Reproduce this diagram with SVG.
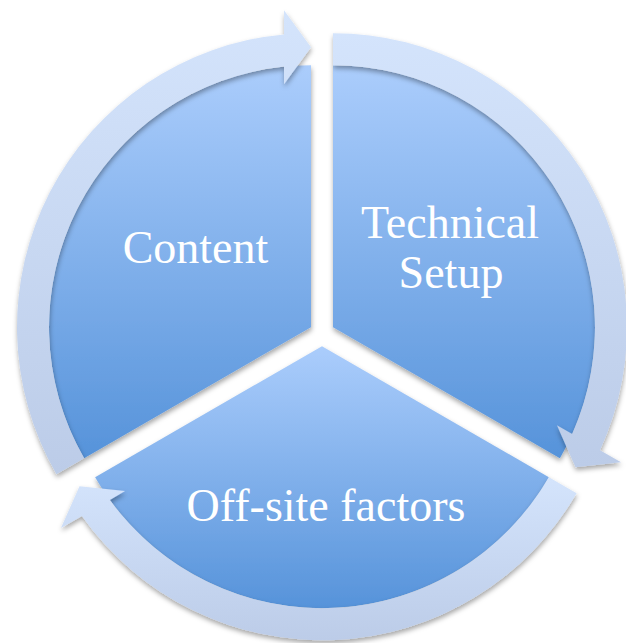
<svg xmlns="http://www.w3.org/2000/svg" width="626" height="643" viewBox="0 0 626 643">
  <defs>
    <linearGradient id="wedgeGrad" x1="0" y1="0" x2="0" y2="1">
      <stop offset="0" stop-color="#abcdfc"/>
      <stop offset="1" stop-color="#5693da"/>
    </linearGradient>
    <linearGradient id="bandGrad" x1="0" y1="0" x2="0" y2="1">
      <stop offset="0" stop-color="#d4e4fc"/>
      <stop offset="1" stop-color="#bccce8"/>
    </linearGradient>
    <filter id="shadow" x="-10%" y="-10%" width="120%" height="120%">
      <feDropShadow dx="0.5" dy="3" stdDeviation="2.5" flood-color="#000" flood-opacity="0.35"/>
    </filter>
  </defs>
  <style>
    .wedge { fill: url(#wedgeGrad); filter: url(#shadow); }
    .arrow { fill: url(#bandGrad); filter: url(#shadow); }
    .label { fill: #ffffff; font-family: "Liberation Serif", "DejaVu Serif", serif; font-size: 46px; text-anchor: middle; }
  </style>
  <rect width="626" height="643" fill="#ffffff"/>

  <g id="node-content">
    <path class="wedge" d="M311,327.15 L311,65.15 A262,262 0 0 0 84.11,458.15 Z"/>
  </g>
  <g id="node-technical">
    <path class="wedge" d="M333,327.15 L333,65.15 A262,262 0 0 1 559.89,458.15 Z"/>
  </g>
  <g id="node-offsite">
    <path class="wedge" d="M322,346.2 L548.9,477.2 A262,262 0 0 1 95.1,477.2 Z"/>
  </g>

  <g id="connectors">
    <path class="arrow" d="M56.4,474.15 A294,294 0 0 1 284,34.39 L284,10.15 L311,47.15 L284,84.15 L284,66.54 A262,262 0 0 0 84.11,458.15 Z"/>
    <path class="arrow" d="M333,33.15 A294,294 0 0 1 600.04,450.15 L621.03,462.27 L575.49,467.15 L556.94,425.27 L572.19,434.08 A262,262 0 0 0 333,65.15 Z"/>
    <path class="arrow" d="M576.61,493.2 A294,294 0 0 1 81.96,515.96 L60.97,528.08 L79.51,486.2 L125.06,491.08 L109.81,499.89 A262,262 0 0 0 548.9,477.2 Z"/>
  </g>

  <g id="labels">
    <text class="label" x="195.5" y="263.3">Content</text>
    <text class="label" x="450" y="238.3">Technical</text>
    <text class="label" x="451" y="287.5">Setup</text>
    <text class="label" x="326" y="520.7">Off-site factors</text>
  </g>
</svg>
